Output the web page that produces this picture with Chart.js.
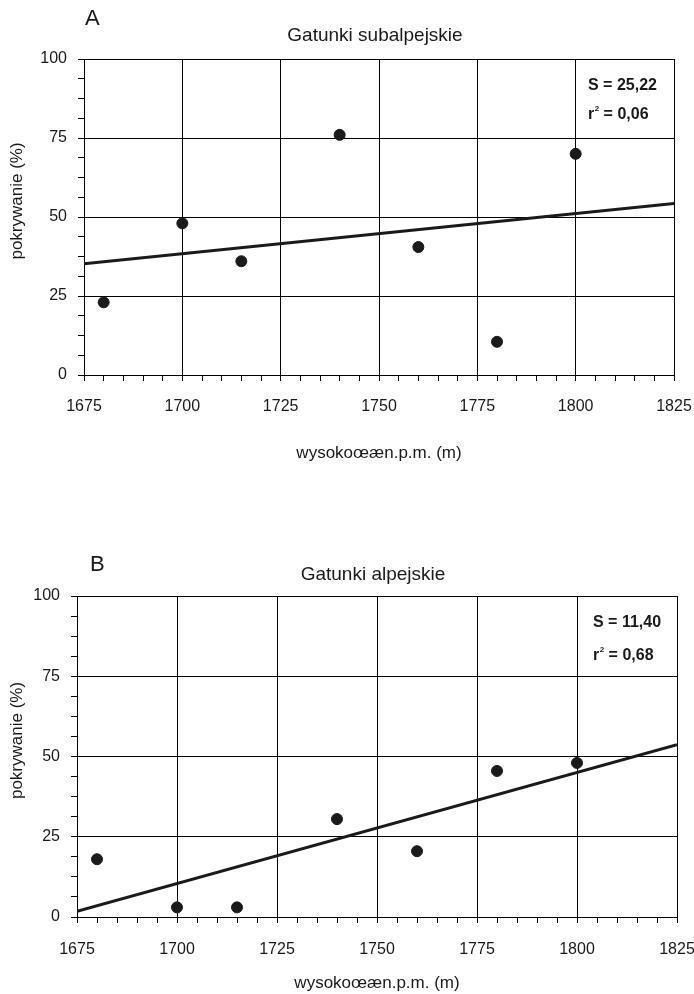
<!DOCTYPE html>
<html>
<head>
<meta charset="utf-8">
<script src="https://cdn.jsdelivr.net/npm/chart.js@4.4.1/dist/chart.umd.min.js"></script>
<style>
  html, body { margin: 0; padding: 0; background: #fff; }
  canvas { display: block; }
</style>
</head>
<body>
<canvas id="chartA" width="694" height="497"></canvas>
<canvas id="chartB" width="694" height="497"></canvas>
<script>
const altitudeTicks = [1675, 1700, 1725, 1750, 1775, 1800, 1825];
const coverTicks = [0, 25, 50, 75, 100];

const trendAltitude = [1675, 1825];

const altitudeA = [1680, 1700, 1715, 1740, 1760, 1780, 1800];
const coverA = [23, 48, 36, 76, 40.5, 10.5, 70];
const trendA = [35.2, 54.3];

const altitudeB = [1680, 1700, 1715, 1740, 1760, 1780, 1800];
const coverB = [18, 3, 3, 30.5, 20.5, 45.5, 48];
const trendB = [1.8, 53.7];

const family = '"Liberation Sans", Arial, sans-serif';
const ink = "#1a1a1a";

// napisy: litera panelu, tytul, tytul osi Y, statystyki
const panelText = {
  id: "panelText",
  afterDraw(chart, args, o) {
    const ctx = chart.ctx;
    const area = chart.chartArea;
    ctx.save();
    ctx.fillStyle = ink;
    ctx.textBaseline = "middle";

    ctx.textAlign = "left";
    ctx.font = `22px ${family}`;
    ctx.fillText(o.letter, o.letterX, o.letterY);

    ctx.textAlign = "center";
    ctx.font = `19px ${family}`;
    ctx.fillText(o.title, (area.left + area.right) / 2 - 4, o.titleY);

    ctx.save();
    ctx.translate(17.5, (area.top + area.bottom) / 2 - 16);
    ctx.rotate(-Math.PI / 2);
    ctx.font = `17px ${family}`;
    ctx.fillText("pokrywanie (%)", 0, 0);
    ctx.restore();

    ctx.textAlign = "left";
    ctx.font = `bold 16px ${family}`;
    ctx.fillText(o.s, o.statX, o.sY);
    ctx.fillText("r", o.statX, o.rY);
    const rw = ctx.measureText("r").width;
    ctx.font = `bold 8px ${family}`;
    ctx.fillText("2", o.statX + rw + 0.5, o.rY - 6);
    const sw = ctx.measureText("2").width;
    ctx.font = `bold 16px ${family}`;
    ctx.fillText(" = " + o.r2, o.statX + rw + sw + 0.5, o.rY);
    ctx.restore();
  }
};

function makeChart(id, c) {
  return new Chart(document.getElementById(id), {
    type: "scatter",
    data: {
      datasets: [
        {
          data: c.alt.map((x, i) => ({ x, y: c.cover[i] })),
          backgroundColor: ink,
          borderColor: ink,
          pointRadius: 5.5,
          pointHoverRadius: 5.5
        },
        {
          type: "line",
          data: trendAltitude.map((x, i) => ({ x, y: c.trend[i] })),
          borderColor: ink,
          borderWidth: 3,
          pointRadius: 0,
          fill: false,
          tension: 0
        }
      ]
    },
    options: {
      responsive: false,
      animation: false,
      layout: { padding: { top: c.top, right: c.right, left: 0, bottom: 0 } },
      plugins: {
        legend: { display: false },
        tooltip: { enabled: false },
        panelText: c.text
      },
      scales: {
        x: {
          type: "linear",
          min: 1675,
          max: 1825,
          ticks: {
            stepSize: 5,
            autoSkip: false,
            maxRotation: 0,
            padding: c.xPad,
            color: ink,
            font: { family, size: 16 },
            callback: (v) => (altitudeTicks.includes(v) ? String(v) : "")
          },
          grid: {
            color: (ctx) => (ctx.tick && altitudeTicks.includes(ctx.tick.value) ? "#000" : "rgba(0,0,0,0)"),
            tickColor: "#000",
            tickLength: 6,
            lineWidth: 1
          },
          border: { color: "#000", width: 1 },
          title: {
            display: true,
            text: "wysokoœæn.p.m. (m)",
            color: ink,
            font: { family, size: 17 },
            padding: { top: 0, bottom: c.xTitlePad }
          },
          afterFit: (s) => {
            s.height = c.xHeight;
            s.paddingLeft = 0;
            s.paddingRight = 0;
          }
        },
        y: {
          type: "linear",
          min: 0,
          max: 100,
          ticks: {
            stepSize: 6.25,
            autoSkip: false,
            padding: 11,
            color: ink,
            font: { family, size: 16 },
            callback: (v) => (coverTicks.includes(v) ? String(v) : "")
          },
          grid: {
            color: (ctx) => (ctx.tick && coverTicks.includes(ctx.tick.value) ? "#000" : "rgba(0,0,0,0)"),
            tickColor: "#000",
            tickLength: 6,
            lineWidth: 1
          },
          border: { color: "#000", width: 1 },
          afterFit: (s) => {
            s.width = c.left;
            s.paddingTop = 0;
            s.paddingBottom = 0;
          }
        }
      }
    },
    plugins: [panelText]
  });
}

makeChart("chartA", {
  alt: altitudeA, cover: coverA, trend: trendA,
  top: 59, right: 20, left: 84, xHeight: 122, xPad: 16, xTitlePad: 33,
  text: {
    letter: "A", letterX: 85, letterY: 19,
    title: "Gatunki subalpejskie", titleY: 35.5,
    s: "S = 25,22", r2: "0,06", statX: 588, sY: 86, rY: 115
  }
});

makeChart("chartB", {
  alt: altitudeB, cover: coverB, trend: trendB,
  top: 99, right: 17, left: 77, xHeight: 77, xPad: 17, xTitlePad: 0,
  text: {
    letter: "B", letterX: 90, letterY: 68,
    title: "Gatunki alpejskie", titleY: 78,
    s: "S = 11,40", r2: "0,68", statX: 593, sY: 126, rY: 159
  }
});
</script>
</body>
</html>
